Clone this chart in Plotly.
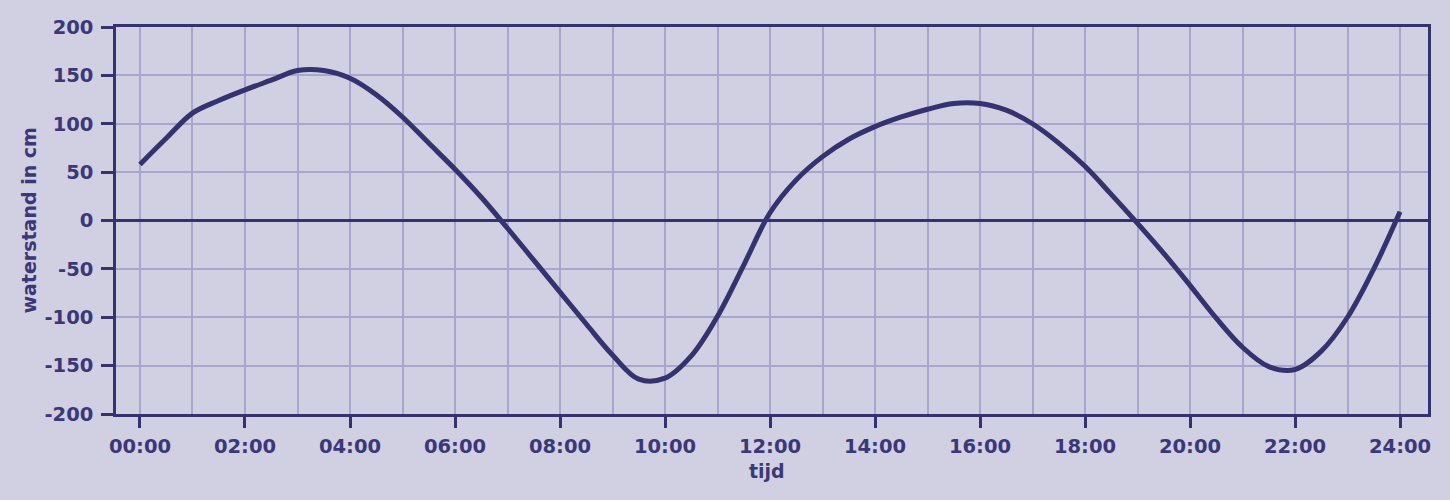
import plotly.graph_objects as go

# Water level (cm) every half hour, time in hours
hours = [0, 0.5, 1, 1.5, 2, 2.5, 3, 3.5, 4, 4.5, 5, 5.5, 6, 6.5, 7, 7.5, 8, 8.5, 9, 9.5,
         10, 10.5, 11, 11.5, 12, 12.5, 13, 13.5, 14, 14.5, 15, 15.5, 16, 16.5, 17, 17.5,
         18, 18.5, 19, 19.5, 20, 20.5, 21, 21.5, 22, 22.5, 23, 23.5, 24]
waterstand = [58, 85, 111, 124, 135, 145, 155, 155, 147, 130, 107, 80, 53, 24, -8, -41,
              -74, -107, -139, -164, -163, -140, -99, -46, 8, 42, 66, 84, 97, 107, 115,
              121, 121, 114, 100, 80, 56, 27, -3, -34, -67, -101, -131, -151, -154, -135,
              -100, -50, 9]

x_tickvals = [0, 2, 4, 6, 8, 10, 12, 14, 16, 18, 20, 22, 24]
x_ticktext = ["00:00", "02:00", "04:00", "06:00", "08:00", "10:00", "12:00",
              "14:00", "16:00", "18:00", "20:00", "22:00", "24:00"]
x_gridvals = list(range(0, 25))
y_tickvals = [-200, -150, -100, -50, 0, 50, 100, 150, 200]
y_ticktext = ["-200", "-150", "-100", "-50", "0", "50", "100", "150", "200"]

BG = "#d1cfe2"
GRID = "#a9a5cd"
DARK = "#34326f"
TEXT = "#3a3878"
FONT = "DejaVu Sans"

fig = go.Figure()
fig.add_trace(go.Scatter(
    x=hours, y=waterstand, mode="lines",
    line=dict(color=DARK, width=5, shape="spline", smoothing=1.0),
    hoverinfo="skip", showlegend=False,
))

L, R, T, B = 116, 22, 27, 86
fig.update_layout(
    width=1450, height=500,
    margin=dict(l=L, r=R, t=T, b=B, autoexpand=False),
    paper_bgcolor=BG, plot_bgcolor=BG,
    font=dict(family=FONT, color=TEXT),
    showlegend=False,
)
fig.update_xaxes(
    range=[-0.457, 24.533],
    tickmode="array", tickvals=x_tickvals, ticktext=x_ticktext,
    ticks="outside", ticklen=11, tickwidth=2.5, tickcolor=DARK,
    tickfont=dict(family=FONT, size=19.5, color=TEXT, weight="bold"),
    showgrid=False,
    minor=dict(tickmode="array", tickvals=x_gridvals, showgrid=True,
               gridcolor=GRID, gridwidth=2, ticks=""),
    showline=True, linecolor=DARK, linewidth=2.5, mirror=True,
    zeroline=False, automargin=False, ticklabelstandoff=2,
)
fig.update_yaxes(
    range=[-200, 200],
    tickmode="array", tickvals=y_tickvals, ticktext=y_ticktext,
    ticks="outside", ticklen=12, tickwidth=2.5, tickcolor=DARK,
    tickfont=dict(family=FONT, size=19.5, color=TEXT, weight="bold"),
    showgrid=True, gridcolor=GRID, gridwidth=2,
    zeroline=True, zerolinecolor=DARK, zerolinewidth=2.5,
    showline=True, linecolor=DARK, linewidth=2.5, mirror=True,
    ticklabelstandoff=4, automargin=False,
)

plot_w = 1450 - L - R
plot_h = 500 - T - B
fig.add_annotation(
    text="waterstand in cm", textangle=-90, showarrow=False,
    xref="paper", yref="paper", x=(28.5 - L) / plot_w, y=(414 - 221) / plot_h,
    xanchor="center", yanchor="middle",
    font=dict(family=FONT, size=19, color=TEXT, weight="bold"),
)
fig.add_annotation(
    text="tijd", showarrow=False,
    xref="paper", yref="paper", x=(767 - L) / plot_w, y=(414 - 471) / plot_h,
    xanchor="center", yanchor="middle",
    font=dict(family=FONT, size=19, color=TEXT, weight="bold"),
)

fig.write_html(
    "out.html",
    config={"displayModeBar": False},
    post_script=(
        "document.body.style.margin='0';document.body.style.padding='0';"
        "document.body.style.background='" + BG + "';"
        "document.documentElement.style.overflow='hidden';"
    ),
)
